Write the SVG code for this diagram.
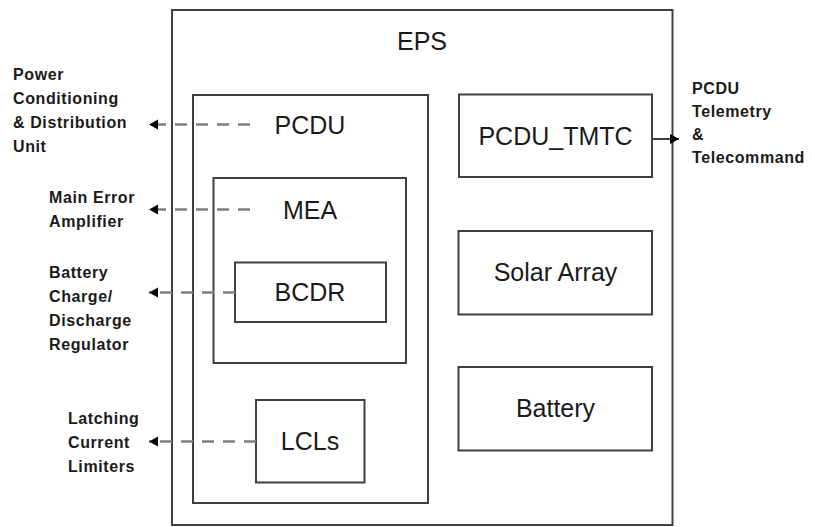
<svg xmlns="http://www.w3.org/2000/svg" width="815" height="527" viewBox="0 0 815 527">
  <style>
    .box { fill: #ffffff; stroke: #404040; stroke-width: 2; }
    .title { font-family: "Liberation Sans", Arial, sans-serif; font-size: 25px; fill: #1a1a1a; text-anchor: middle; }
    .side { font-family: "Liberation Sans", Arial, sans-serif; font-size: 16px; font-weight: bold; fill: #1a1a1a; letter-spacing: 0.6px; }
    .dash { fill: none; stroke: #7f7f7f; stroke-width: 2.5; stroke-dasharray: 12 9; }
    .solid { fill: none; stroke: #404040; stroke-width: 2; }
  </style>
  <defs>
    <marker id="arrow" markerUnits="userSpaceOnUse" markerWidth="10" markerHeight="12" refX="9" refY="5" orient="auto">
      <path d="M0,0 L9,5 L0,10 Z" fill="#000000"/>
    </marker>
  </defs>
  <rect width="815" height="527" fill="#ffffff"/>

  <g id="eps">
    <rect class="box" x="172" y="10" width="500.5" height="515"/>
    <text class="title" x="422" y="50">EPS</text>
  </g>
  <g id="pcdu">
    <rect class="box" x="193" y="95" width="235" height="408"/>
    <text class="title" x="310" y="134">PCDU</text>
  </g>
  <g id="mea">
    <rect class="box" x="213.5" y="178" width="192.5" height="185"/>
    <text class="title" x="310" y="219">MEA</text>
  </g>
  <g id="bcdr">
    <rect class="box" x="235" y="262.5" width="151" height="59.5"/>
    <text class="title" x="310" y="301">BCDR</text>
  </g>
  <g id="lcls">
    <rect class="box" x="256" y="400" width="108.5" height="82.5"/>
    <text class="title" x="310" y="450">LCLs</text>
  </g>
  <g id="pcdu_tmtc">
    <rect class="box" x="459" y="94.5" width="193" height="82.5"/>
    <text class="title" x="555.5" y="145">PCDU_TMTC</text>
  </g>
  <g id="solar_array">
    <rect class="box" x="458.5" y="231" width="193.5" height="83.5"/>
    <text class="title" x="555.5" y="281">Solar Array</text>
  </g>
  <g id="battery">
    <rect class="box" x="458.5" y="367" width="193.5" height="83.5"/>
    <text class="title" x="555.5" y="417">Battery</text>
  </g>

  <g id="connectors">
    <path class="dash" d="M250,124.5 H149" marker-end="url(#arrow)"/>
    <path class="dash" d="M250,209.5 H149" marker-end="url(#arrow)"/>
    <path class="dash" d="M235,292.5 H149" marker-end="url(#arrow)"/>
    <path class="dash" d="M256,441.5 H149" marker-end="url(#arrow)"/>
    <path class="solid" d="M652,139 H679" marker-end="url(#arrow)"/>
  </g>

  <g id="labels">
    <text class="side" x="13" y="80">Power</text>
    <text class="side" x="13" y="104">Conditioning</text>
    <text class="side" x="13" y="128">&amp; Distribution</text>
    <text class="side" x="13" y="152">Unit</text>

    <text class="side" x="49" y="203">Main Error</text>
    <text class="side" x="49" y="227">Amplifier</text>

    <text class="side" x="49" y="277.5">Battery</text>
    <text class="side" x="49" y="301.5">Charge/</text>
    <text class="side" x="49" y="325.5">Discharge</text>
    <text class="side" x="49" y="349.5">Regulator</text>

    <text class="side" x="68" y="424">Latching</text>
    <text class="side" x="68" y="448">Current</text>
    <text class="side" x="68" y="472">Limiters</text>

    <text class="side" x="692" y="94">PCDU</text>
    <text class="side" x="692" y="117">Telemetry</text>
    <text class="side" x="692" y="140">&amp;</text>
    <text class="side" x="692" y="163">Telecommand</text>
  </g>
</svg>
